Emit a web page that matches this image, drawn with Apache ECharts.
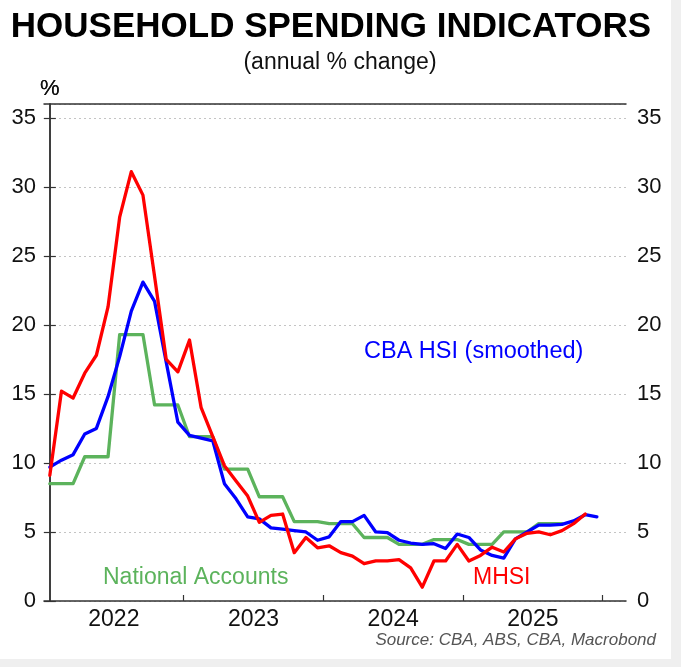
<!DOCTYPE html>
<html>
<head>
<meta charset="utf-8">
<script src="https://cdn.jsdelivr.net/npm/echarts@6/dist/echarts.min.js"></script>
<style>
  html, body { margin: 0; padding: 0; background: #efefef; }
  #chart { width: 671px; height: 659px; background: #ffffff; }
</style>
</head>
<body>
<div id="chart"></div>
<script>
// Months are indexed from Jan 2022 (0) onward; each point sits mid-month.
const firstMonth = '2022-01';

// CBA Household Spending Insights (smoothed), annual % change, Jan 2022 - Dec 2025
const cbaHsi = [9.7, 10.2, 10.6, 12.1, 12.5, 14.8, 17.7, 21.0, 23.1, 21.7, 17.3, 12.95,
                12.0, 11.8, 11.6, 8.5, 7.4, 6.1, 5.95, 5.3, 5.2, 5.1, 5.0, 4.4,
                4.65, 5.75, 5.75, 6.2, 5.0, 4.95, 4.4, 4.2, 4.1, 4.15, 3.8, 4.85,
                4.6, 3.7, 3.3, 3.1, 4.5, 5.0, 5.5, 5.5, 5.55, 5.8, 6.25, 6.1];

// ABS Monthly Household Spending Indicator, annual % change, Jan 2022 - Nov 2025
const mhsi = [9.1, 15.2, 14.7, 16.5, 17.8, 21.3, 27.8, 31.1, 29.4, 23.5, 17.5, 16.6,
              18.9, 14.0, 11.9, 9.8, 8.7, 7.6, 5.7, 6.2, 6.3, 3.5, 4.6, 3.85,
              4.0, 3.5, 3.25, 2.7, 2.9, 2.9, 3.0, 2.4, 1.0, 2.9, 2.9, 4.1,
              2.9, 3.3, 3.9, 3.55, 4.5, 4.9, 5.0, 4.8, 5.1, 5.6, 6.3];

// National Accounts household consumption, quarterly value shown for each month of the quarter
const nationalAccounts = [8.5, 8.5, 8.5, 10.45, 10.45, 10.45, 19.3, 19.3, 19.3, 14.2, 14.2, 14.2,
                          11.9, 11.9, 11.9, 9.55, 9.55, 9.55, 7.55, 7.55, 7.55, 5.75, 5.75, 5.75,
                          5.6, 5.6, 5.6, 4.6, 4.6, 4.6, 4.1, 4.1, 4.1, 4.45, 4.45, 4.45,
                          4.1, 4.1, 4.1, 5.0, 5.0, 5.0, 5.6, 5.6, 5.6];

// Axis ticks / labels (month-index positions)
const yearLabels = ['2022', '2023', '2024', '2025'];
const yearLabelPos = [5.5, 17.5, 29.5, 41.5];
const yearTickPos = [11.5, 23.5, 35.5, 47.5];
const yTicks = [0, 5, 10, 15, 20, 25, 30, 35];

const FONT = "'Liberation Sans', Arial, Helvetica, sans-serif";
const RED = '#ff0000', BLUE = '#0000ff', GREEN = '#5cb35c';
const AXIS = '#333333';

function toPairs(arr) { return arr.map((v, i) => [i, v]); }

const chart = echarts.init(document.getElementById('chart'), null, { renderer: 'canvas' });

const commonY = {
  type: 'value', min: 0, max: 36, interval: 5,
  axisLine: { show: true, lineStyle: { color: AXIS, width: 1.5 } },
  axisTick: { show: true, inside: true, length: 6, lineStyle: { color: AXIS, width: 1.2 } },
  axisLabel: { showMaxLabel: false, fontSize: 22, color: '#111', fontFamily: FONT,
               formatter: v => (yTicks.indexOf(v) >= 0 ? String(v) : '') },
  name: '%', nameLocation: 'end', nameGap: 4,
  nameTextStyle: { fontSize: 22, color: '#111', fontFamily: FONT, align: 'center' }
};

chart.setOption({
  backgroundColor: '#ffffff',
  animation: false,
  grid: { left: 44, right: 45, top: 104, bottom: 58, outerBoundsMode: 'none', containLabel: false },
  xAxis: [
    {
      type: 'value', min: -0.5, max: 49.5, position: 'bottom',
      axisLine: { show: true, onZero: false, lineStyle: { color: AXIS, width: 1.5 } },
      axisTick: { show: true, inside: true, length: 6, customValues: yearTickPos, lineStyle: { color: AXIS, width: 1.2 } },
      axisLabel: { customValues: yearLabelPos, fontSize: 23, margin: 7, color: '#111', fontFamily: FONT,
                   formatter: v => yearLabels[yearLabelPos.indexOf(v)] || '' },
      splitLine: { show: false }
    },
    {
      type: 'value', min: -0.5, max: 49.5, position: 'top', z: 10,
      axisLine: { show: true, onZero: false, lineStyle: { color: AXIS, width: 1.5 } },
      axisTick: { show: false }, axisLabel: { show: false }, splitLine: { show: false }
    }
  ],
  yAxis: [
    Object.assign({}, commonY, {
      position: 'left',
      axisLabel: Object.assign({}, commonY.axisLabel, { margin: 8 }),
      splitLine: { show: true, lineStyle: { type: [2, 3], color: '#c4c4c4', width: 1 } }
    }),
    Object.assign({}, commonY, {
      position: 'right',
      axisLabel: Object.assign({}, commonY.axisLabel, { margin: 11 }),
      splitLine: { show: false }
    })
  ],
  series: [
    { name: 'National Accounts', type: 'line', data: toPairs(nationalAccounts), showSymbol: false,
      lineStyle: { color: GREEN, width: 3.3, join: 'round', cap: 'round' }, z: 2 },
    { name: 'CBA HSI (smoothed)', type: 'line', data: toPairs(cbaHsi), showSymbol: false,
      lineStyle: { color: BLUE, width: 3.3, join: 'round', cap: 'round' }, z: 3 },
    { name: 'MHSI', type: 'line', data: toPairs(mhsi), showSymbol: false,
      lineStyle: { color: RED, width: 3.3, join: 'round', cap: 'round' }, z: 4 }
  ],
  graphic: [
    { type: 'text', x: 331, y: 27, style: { text: 'HOUSEHOLD SPENDING INDICATORS', font: "bold 35px " + FONT,
      fill: '#000', align: 'center', verticalAlign: 'middle' } },
    { type: 'text', x: 340, y: 63, style: { text: '(annual % change)', font: "23px " + FONT,
      fill: '#111', align: 'center', verticalAlign: 'middle' } },
    { type: 'text', x: 364, y: 352, style: { text: 'CBA HSI (smoothed)', font: "23.5px " + FONT,
      fill: BLUE, align: 'left', verticalAlign: 'middle' } },
    { type: 'text', x: 103, y: 578, style: { text: 'National Accounts', font: "23px " + FONT,
      fill: GREEN, align: 'left', verticalAlign: 'middle' } },
    { type: 'text', x: 473, y: 578, style: { text: 'MHSI', font: "23px " + FONT,
      fill: RED, align: 'left', verticalAlign: 'middle' } },
    { type: 'text', x: 656, y: 640, style: { text: 'Source: CBA, ABS, CBA, Macrobond', font: "italic 17px " + FONT,
      fill: '#555', align: 'right', verticalAlign: 'middle' } }
  ]
});
</script>
</body>
</html>
